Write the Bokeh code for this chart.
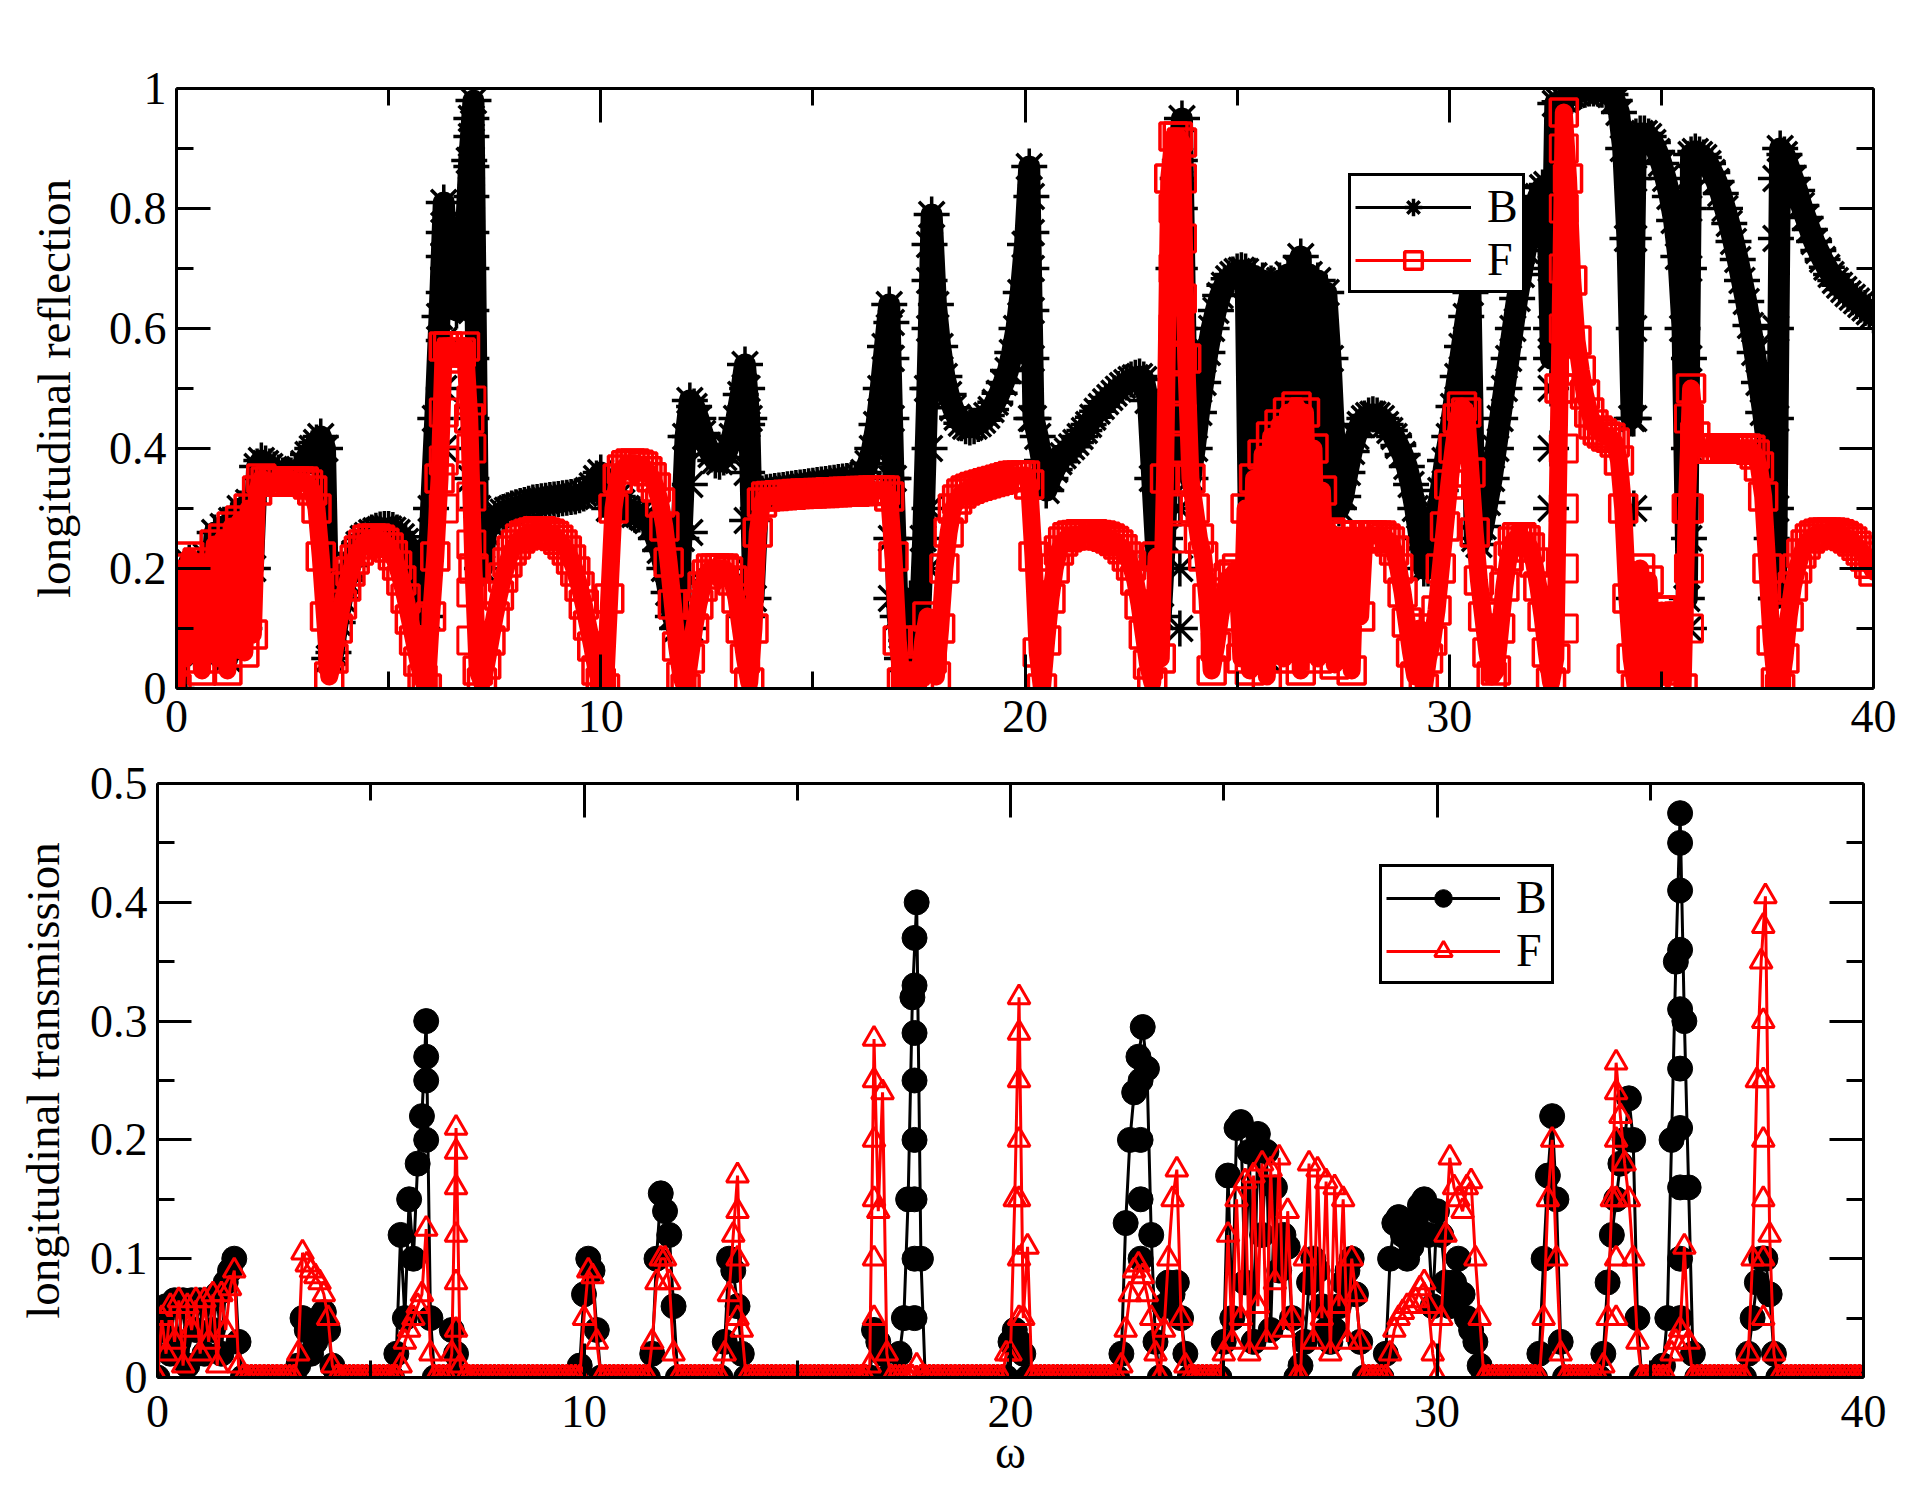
from bokeh.plotting import figure
from bokeh.models import (Range1d, LinearAxis, FixedTicker, CustomJSTickFormatter,
                          Legend, LegendItem)
from bokeh.layouts import column
from bokeh.embed import file_html
from bokeh.resources import INLINE

FONT = "Liberation Serif"

# ---------------- data (omega sampled every 0.1 from 0 to 40) ----------------
# longitudinal reflection, B
refl_B_0_10 = [
    0.00, 0.18, 0.08, 0.21, 0.12, 0.19, 0.06, 0.22, 0.15, 0.26,
    0.09, 0.27, 0.05, 0.28, 0.14, 0.30, 0.10, 0.31, 0.20, 0.37,
    0.38, 0.375, 0.37, 0.365, 0.36, 0.355, 0.355, 0.355, 0.36, 0.365,
    0.375, 0.39, 0.40, 0.41, 0.42, 0.40, 0.05, 0.06, 0.11, 0.15,
    0.18, 0.205, 0.225, 0.24, 0.25, 0.255, 0.26, 0.263, 0.265, 0.266,
    0.266, 0.264, 0.26, 0.253, 0.245, 0.23, 0.21, 0.19, 0.16, 0.12,
    0.30, 0.45, 0.62, 0.81, 0.70, 0.66, 0.63, 0.65, 0.72, 0.88,
    0.98, 0.30, 0.20, 0.26, 0.275, 0.283, 0.29, 0.294, 0.297, 0.30,
    0.302, 0.304, 0.306, 0.308, 0.31, 0.311, 0.312, 0.313, 0.314, 0.315,
    0.316, 0.317, 0.318, 0.319, 0.32, 0.322, 0.325, 0.33, 0.338, 0.35]
refl_B_10_20 = [
    0.36, 0.33, 0.30, 0.31, 0.32, 0.31, 0.30, 0.295, 0.29, 0.29,
    0.285, 0.28, 0.27, 0.25, 0.23, 0.20, 0.16, 0.12, 0.10, 0.25,
    0.42, 0.48, 0.47, 0.45, 0.425, 0.405, 0.39, 0.38, 0.378, 0.385,
    0.40, 0.42, 0.45, 0.49, 0.54, 0.45, 0.15, 0.30, 0.325, 0.327,
    0.328, 0.329, 0.33, 0.331, 0.332, 0.333, 0.334, 0.335, 0.336, 0.337,
    0.338, 0.339, 0.34, 0.341, 0.342, 0.343, 0.344, 0.345, 0.346, 0.347,
    0.348, 0.352, 0.36, 0.375, 0.40, 0.44, 0.50, 0.57, 0.64, 0.35,
    0.12, 0.05, 0.08, 0.15, 0.12, 0.07, 0.25, 0.50, 0.79, 0.64,
    0.57, 0.52, 0.49, 0.468, 0.452, 0.442, 0.437, 0.435, 0.437, 0.441,
    0.447, 0.455, 0.465, 0.477, 0.492, 0.51, 0.53, 0.56, 0.60, 0.66]
refl_B_20_30 = [
    0.74, 0.87, 0.45, 0.42, 0.38, 0.33, 0.35, 0.365, 0.378, 0.388,
    0.396, 0.403, 0.41, 0.42, 0.43, 0.44, 0.452, 0.462, 0.47, 0.478,
    0.485, 0.492, 0.499, 0.505, 0.51, 0.515, 0.518, 0.52, 0.515, 0.48,
    0.35, 0.22, 0.12, 0.25, 0.45, 0.70, 0.85, 0.95, 0.50, 0.35,
    0.40, 0.46, 0.51, 0.56, 0.60, 0.63, 0.655, 0.672, 0.683, 0.69,
    0.695, 0.697, 0.695, 0.15, 0.688, 0.30, 0.68, 0.05, 0.675, 0.40,
    0.68, 0.10, 0.69, 0.50, 0.70, 0.72, 0.20, 0.69, 0.35, 0.68,
    0.10, 0.66, 0.55, 0.40, 0.30, 0.32, 0.36, 0.395, 0.42, 0.44,
    0.45, 0.455, 0.457, 0.455, 0.45, 0.44, 0.43, 0.42, 0.405, 0.39,
    0.37, 0.34, 0.30, 0.25, 0.20, 0.20, 0.24, 0.29, 0.33, 0.38]
refl_B_30_40 = [
    0.42, 0.47, 0.52, 0.57, 0.62, 0.66, 0.25, 0.24, 0.27, 0.31,
    0.35, 0.40, 0.45, 0.50, 0.55, 0.60, 0.65, 0.69, 0.73, 0.77,
    0.80, 0.82, 0.835, 0.84, 0.55, 0.975, 0.978, 0.982, 0.986, 0.99,
    0.993, 0.996, 0.998, 1.0, 1.0, 1.0, 0.998, 0.995, 0.99, 0.98,
    0.96, 0.90, 0.75, 0.45, 0.92, 0.925, 0.925, 0.92, 0.91, 0.895,
    0.875, 0.85, 0.82, 0.78, 0.72, 0.60, 0.15, 0.89, 0.895, 0.89,
    0.885, 0.875, 0.86, 0.845, 0.825, 0.80, 0.775, 0.745, 0.715, 0.68,
    0.645, 0.605, 0.56, 0.51, 0.46, 0.40, 0.25, 0.15, 0.90, 0.89,
    0.87, 0.85, 0.83, 0.805, 0.785, 0.765, 0.745, 0.73, 0.715, 0.702,
    0.69, 0.68, 0.672, 0.665, 0.658, 0.652, 0.646, 0.64, 0.634, 0.628,
    0.622]

# longitudinal reflection, F
refl_F_0_10 = [
    0.00, 0.20, 0.05, 0.22, 0.08, 0.21, 0.03, 0.20, 0.12, 0.24,
    0.05, 0.25, 0.03, 0.27, 0.10, 0.28, 0.06, 0.30, 0.09, 0.33,
    0.35, 0.345, 0.345, 0.345, 0.345, 0.345, 0.345, 0.345, 0.345, 0.345,
    0.345, 0.34, 0.33, 0.30, 0.22, 0.12, 0.02, 0.05, 0.10, 0.14,
    0.17, 0.195, 0.215, 0.23, 0.24, 0.248, 0.25, 0.25, 0.248, 0.243,
    0.235, 0.222, 0.205, 0.18, 0.15, 0.115, 0.08, 0.045, 0.015, 0.00,
    0.12, 0.22, 0.35, 0.57, 0.57, 0.56, 0.55, 0.56, 0.57, 0.45,
    0.20, 0.03, 0.01, 0.04, 0.08, 0.12, 0.155, 0.185, 0.21, 0.23,
    0.24, 0.25, 0.255, 0.258, 0.26, 0.262, 0.262, 0.26, 0.258, 0.254,
    0.248, 0.24, 0.23, 0.215, 0.195, 0.17, 0.14, 0.105, 0.07, 0.03]
refl_F_10_20 = [
    0.01, 0.00, 0.15, 0.30, 0.35, 0.365, 0.372, 0.375, 0.375, 0.373,
    0.37, 0.362, 0.352, 0.335, 0.31, 0.27, 0.21, 0.14, 0.07, 0.02,
    0.00, 0.05, 0.10, 0.14, 0.17, 0.19, 0.20, 0.20, 0.20, 0.20,
    0.195, 0.18, 0.15, 0.10, 0.05, 0.01, 0.10, 0.26, 0.31, 0.32,
    0.321, 0.321, 0.322, 0.322, 0.323, 0.323, 0.324, 0.324, 0.325, 0.325,
    0.325, 0.326, 0.326, 0.326, 0.327, 0.327, 0.327, 0.328, 0.328, 0.328,
    0.328, 0.329, 0.329, 0.329, 0.33, 0.33, 0.33, 0.33, 0.32, 0.22,
    0.08, 0.01, 0.02, 0.00, 0.03, 0.01, 0.08, 0.12, 0.05, 0.02,
    0.10, 0.20, 0.26, 0.30, 0.315, 0.325, 0.33, 0.333, 0.336, 0.338,
    0.34, 0.342, 0.344, 0.346, 0.348, 0.35, 0.352, 0.354, 0.355, 0.355]
refl_F_20_30 = [
    0.355, 0.34, 0.22, 0.06, 0.00, 0.08, 0.15, 0.20, 0.23, 0.245,
    0.252, 0.255, 0.256, 0.257, 0.257, 0.257, 0.257, 0.256, 0.255, 0.253,
    0.25, 0.246, 0.24, 0.232, 0.22, 0.205, 0.18, 0.14, 0.09, 0.04,
    0.01, 0.22, 0.05, 0.35, 0.85, 0.92, 0.92, 0.91, 0.55, 0.35,
    0.30, 0.25, 0.22, 0.15, 0.03, 0.07, 0.12, 0.16, 0.185, 0.19,
    0.20, 0.05, 0.30, 0.03, 0.35, 0.10, 0.39, 0.02, 0.42, 0.15,
    0.44, 0.05, 0.46, 0.12, 0.47, 0.03, 0.46, 0.20, 0.40, 0.05,
    0.33, 0.10, 0.26, 0.04, 0.255, 0.08, 0.255, 0.03, 0.255, 0.12,
    0.255, 0.255, 0.255, 0.255, 0.255, 0.25, 0.245, 0.23, 0.20, 0.16,
    0.11, 0.06, 0.02, 0.10, 0.00, 0.05, 0.08, 0.13, 0.20, 0.27]
refl_F_30_40 = [
    0.34, 0.40, 0.45, 0.47, 0.46, 0.36, 0.26, 0.18, 0.12, 0.06,
    0.02, 0.03, 0.10, 0.17, 0.22, 0.245, 0.252, 0.252, 0.247, 0.235,
    0.21, 0.17, 0.12, 0.06, 0.01, 0.05, 0.50, 0.96, 0.85, 0.68,
    0.58, 0.53, 0.49, 0.46, 0.44, 0.43, 0.425, 0.42, 0.418, 0.41,
    0.38, 0.30, 0.15, 0.05, 0.00, 0.20, 0.05, 0.18, 0.00, 0.05,
    0.13, 0.02, 0.13, 0.03, 0.12, 0.00, 0.30, 0.50, 0.42, 0.40,
    0.40, 0.40, 0.40, 0.40, 0.40, 0.40, 0.40, 0.40, 0.40, 0.40,
    0.40, 0.398, 0.39, 0.37, 0.32, 0.20, 0.08, 0.01, 0.00, 0.05,
    0.12, 0.17, 0.20, 0.225, 0.24, 0.25, 0.255, 0.258, 0.26, 0.26,
    0.26, 0.259, 0.257, 0.254, 0.25, 0.245, 0.238, 0.23, 0.22, 0.208,
    0.195]

refl_B_stack_omega = [6.3] * 6 + [6.95] * 10 + [12.1] * 5 + [13.45] * 6 + \
    [16.85] * 6 + [17.75] * 7 + [20.15] * 6 + [23.65] * 9 + [25.5] * 6 + \
    [26.0] * 6 + [26.5] * 4 + [32.4] * 5 + [34.35] * 6 + [35.65] * 6 + [37.7] * 6
refl_B_stack_value = [
    0.40, 0.50, 0.58, 0.66, 0.72, 0.76,
    0.35, 0.45, 0.55, 0.63, 0.70, 0.76, 0.82, 0.87, 0.92, 0.95,
    0.10, 0.18, 0.26, 0.34, 0.42,
    0.12, 0.20, 0.28, 0.36, 0.44, 0.50,
    0.15, 0.25, 0.35, 0.45, 0.55, 0.61,
    0.20, 0.30, 0.40, 0.50, 0.60, 0.68, 0.74,
    0.45, 0.55, 0.63, 0.70, 0.76, 0.82,
    0.10, 0.20, 0.30, 0.40, 0.50, 0.60, 0.70, 0.80, 0.88,
    0.15, 0.25, 0.35, 0.45, 0.55, 0.62,
    0.10, 0.20, 0.30, 0.40, 0.50, 0.60,
    0.15, 0.30, 0.45, 0.60,
    0.30, 0.40, 0.50, 0.60, 0.70,
    0.15, 0.30, 0.45, 0.60, 0.75, 0.85,
    0.10, 0.25, 0.40, 0.55, 0.70, 0.80,
    0.15, 0.30, 0.45, 0.60, 0.75, 0.85]
refl_F_stack_omega = [6.3] * 3 + [6.95] * 6 + [23.5] * 6 + [23.7] * 7 + \
    [32.7] * 9 + [35.65] * 4
refl_F_stack_value = [
    0.30, 0.38, 0.46,
    0.08, 0.16, 0.24, 0.32, 0.40, 0.48,
    0.30, 0.40, 0.50, 0.60, 0.70, 0.80,
    0.25, 0.35, 0.45, 0.55, 0.65, 0.75, 0.85,
    0.10, 0.20, 0.30, 0.40, 0.50, 0.60, 0.70, 0.80, 0.90,
    0.10, 0.20, 0.30, 0.45]

# longitudinal transmission, B
trans_B_0_10 = [
    0.00, 0.04, 0.06, 0.02, 0.065, 0.03, 0.065, 0.01, 0.065, 0.04,
    0.065, 0.02, 0.065, 0.04, 0.07, 0.02, 0.08, 0.09, 0.10, 0.03,
    0, 0, 0, 0, 0, 0, 0, 0, 0, 0,
    0, 0, 0, 0.01, 0.05, 0.04, 0.02, 0.03, 0.05, 0.055,
    0.04, 0.01, 0, 0, 0, 0, 0, 0, 0, 0,
    0, 0, 0, 0, 0, 0, 0.02, 0.12, 0.05, 0.15,
    0.10, 0.18, 0.22, 0.30, 0.05, 0, 0, 0, 0, 0.04,
    0.02, 0, 0, 0, 0, 0, 0, 0, 0, 0,
    0, 0, 0, 0, 0, 0, 0, 0, 0, 0,
    0, 0, 0, 0, 0, 0, 0, 0, 0, 0.01]
trans_B_10_20 = [
    0.07, 0.10, 0.09, 0.04, 0, 0, 0, 0, 0, 0,
    0, 0, 0, 0, 0, 0, 0.02, 0.10, 0.155, 0.14,
    0.12, 0.06, 0, 0, 0, 0, 0, 0, 0, 0,
    0, 0, 0, 0.03, 0.10, 0.09, 0.06, 0.02, 0, 0,
    0, 0, 0, 0, 0, 0, 0, 0, 0, 0,
    0, 0, 0, 0, 0, 0, 0, 0, 0, 0,
    0, 0, 0, 0, 0, 0, 0, 0, 0.04, 0.03,
    0.02, 0, 0, 0, 0.02, 0.05, 0.15, 0.32, 0.40, 0.10,
    0, 0, 0, 0, 0, 0, 0, 0, 0, 0,
    0, 0, 0, 0, 0, 0, 0, 0, 0, 0]
trans_B_20_30 = [
    0.03, 0.04, 0.03, 0.02, 0, 0, 0, 0, 0, 0,
    0, 0, 0, 0, 0, 0, 0, 0, 0, 0,
    0, 0, 0, 0, 0, 0, 0.02, 0.13, 0.20, 0.24,
    0.27, 0.295, 0.26, 0.12, 0.03, 0, 0.06, 0.08, 0.07, 0.08,
    0.05, 0.02, 0, 0, 0, 0, 0, 0, 0, 0,
    0.03, 0.17, 0.05, 0.21, 0.215, 0.08, 0.19, 0.03, 0.205, 0.12,
    0.19, 0.04, 0.16, 0.09, 0.12, 0.11, 0.05, 0, 0.01, 0.03,
    0.08, 0.10, 0.09, 0.06, 0.04, 0.03, 0.04, 0.06, 0.08, 0.09,
    0.10, 0.07, 0.03, 0, 0, 0, 0, 0, 0.02, 0.10,
    0.13, 0.135, 0.12, 0.10, 0.11, 0.13, 0.145, 0.15, 0.12, 0.06]
trans_B_30_40 = [
    0.14, 0.12, 0.08, 0.06, 0.08, 0.10, 0.07, 0.05, 0.04, 0.03,
    0.01, 0, 0, 0, 0, 0, 0, 0, 0, 0,
    0, 0, 0, 0, 0.02, 0.10, 0.17, 0.22, 0.15, 0.03,
    0, 0, 0, 0, 0, 0, 0, 0, 0, 0.02,
    0.08, 0.12, 0.15, 0.18, 0.20, 0.235, 0.20, 0.05, 0, 0,
    0, 0, 0, 0.01, 0.05, 0.20, 0.35, 0.475, 0.30, 0.16,
    0.02, 0, 0, 0, 0, 0, 0, 0, 0, 0,
    0, 0, 0, 0.02, 0.05, 0.08, 0.10, 0.10, 0.07, 0.02,
    0, 0, 0, 0, 0, 0, 0, 0, 0, 0,
    0, 0, 0, 0, 0, 0, 0, 0, 0, 0,
    0]

# longitudinal transmission, F
trans_F_0_10 = [
    0.00, 0.05, 0.02, 0.06, 0.03, 0.065, 0.01, 0.06, 0.04, 0.065,
    0.02, 0.065, 0.03, 0.07, 0.01, 0.07, 0.04, 0.075, 0.09, 0.01,
    0, 0, 0, 0, 0, 0, 0, 0, 0, 0,
    0, 0, 0, 0.02, 0.105, 0.095, 0.09, 0.085, 0.08, 0.07,
    0.05, 0.01, 0, 0, 0, 0, 0, 0, 0, 0,
    0, 0, 0, 0, 0, 0, 0, 0.01, 0.03, 0.04,
    0.05, 0.06, 0.07, 0.125, 0.02, 0, 0, 0, 0, 0.02,
    0.21, 0.01, 0, 0, 0, 0, 0, 0, 0, 0,
    0, 0, 0, 0, 0, 0, 0, 0, 0, 0,
    0, 0, 0, 0, 0, 0, 0, 0, 0, 0]
trans_F_10_20 = [
    0.05, 0.09, 0.085, 0.03, 0, 0, 0, 0, 0, 0,
    0, 0, 0, 0, 0, 0, 0.03, 0.08, 0.10, 0.10,
    0.08, 0.02, 0, 0, 0, 0, 0, 0, 0, 0,
    0, 0, 0, 0.02, 0.07, 0.12, 0.17, 0.04, 0, 0,
    0, 0, 0, 0, 0, 0, 0, 0, 0, 0,
    0, 0, 0, 0, 0, 0, 0, 0, 0, 0,
    0, 0, 0, 0, 0, 0, 0, 0.01, 0.285, 0.14,
    0.24, 0.02, 0, 0, 0, 0, 0, 0, 0.01, 0,
    0, 0, 0, 0, 0, 0, 0, 0, 0, 0,
    0, 0, 0, 0, 0, 0, 0, 0, 0, 0.02]
trans_F_20_30 = [
    0.02, 0.15, 0.32, 0.05, 0.11, 0, 0, 0, 0, 0,
    0, 0, 0, 0, 0, 0, 0, 0, 0, 0,
    0, 0, 0, 0, 0, 0, 0.01, 0.04, 0.07, 0.09,
    0.095, 0.085, 0.07, 0.05, 0.02, 0, 0.04, 0.10, 0.15, 0.175,
    0.05, 0.01, 0, 0, 0, 0, 0, 0, 0, 0,
    0.02, 0.12, 0.03, 0.15, 0.05, 0.165, 0.02, 0.17, 0.06, 0.18,
    0.03, 0.175, 0.08, 0.185, 0.04, 0.14, 0.05, 0, 0, 0.10,
    0.18, 0.03, 0.175, 0.05, 0.165, 0.02, 0.16, 0.06, 0.15, 0.03,
    0.10, 0.07, 0.03, 0, 0, 0, 0, 0, 0, 0.02,
    0.04, 0.05, 0.055, 0.06, 0.06, 0.065, 0.075, 0.08, 0.06, 0.02]
trans_F_30_40 = [
    0.0, 0.05, 0.12, 0.185, 0.16, 0.15, 0.14, 0.16, 0.165, 0.10,
    0.05, 0, 0, 0, 0, 0, 0, 0, 0, 0,
    0, 0, 0, 0, 0, 0.05, 0.15, 0.20, 0.10, 0.02,
    0, 0, 0, 0, 0, 0, 0, 0, 0, 0.01,
    0.05, 0.15, 0.265, 0.22, 0.18, 0.15, 0.10, 0.03, 0, 0,
    0, 0, 0, 0, 0, 0.02, 0.03, 0.04, 0.11, 0.03,
    0, 0, 0, 0, 0, 0, 0, 0, 0, 0,
    0, 0, 0, 0.02, 0.10, 0.25, 0.35, 0.405, 0.12, 0.02,
    0, 0, 0, 0, 0, 0, 0, 0, 0, 0,
    0, 0, 0, 0, 0, 0, 0, 0, 0, 0,
    0]

trans_B_stack_omega = [6.3] * 3 + [17.75] * 8 + [23.05] * 4 + [35.7] * 9
trans_B_stack_value = [
    0.20, 0.25, 0.27,
    0.05, 0.10, 0.15, 0.20, 0.25, 0.29, 0.33, 0.37,
    0.10, 0.15, 0.20, 0.25,
    0.05, 0.10, 0.16, 0.21, 0.26, 0.31, 0.36, 0.41, 0.45]
trans_F_stack_omega = [7.0] * 5 + [13.6] * 3 + [16.8] * 5 + [20.2] * 6 + \
    [34.2] * 5 + [37.65] * 7
trans_F_stack_value = [
    0.04, 0.08, 0.12, 0.16, 0.19,
    0.05, 0.10, 0.14,
    0.05, 0.10, 0.15, 0.20, 0.25,
    0.05, 0.10, 0.15, 0.20, 0.25, 0.29,
    0.05, 0.10, 0.15, 0.20, 0.24,
    0.05, 0.10, 0.15, 0.20, 0.25, 0.30, 0.38]

x_ticks = [0, 10, 20, 30, 40]
x_minor = [5, 15, 25, 35]
refl_ticks = [0, 0.2, 0.4, 0.6, 0.8, 1]
refl_minor = [0.1, 0.3, 0.5, 0.7, 0.9]
trans_ticks = [0, 0.1, 0.2, 0.3, 0.4, 0.5]
trans_minor = [0.05, 0.15, 0.25, 0.35, 0.45]

omega = [round(0.1 * i, 1) for i in range(401)]
refl_B = refl_B_0_10 + refl_B_10_20 + refl_B_20_30 + refl_B_30_40
refl_F = refl_F_0_10 + refl_F_10_20 + refl_F_20_30 + refl_F_30_40
trans_B = trans_B_0_10 + trans_B_10_20 + trans_B_20_30 + trans_B_30_40
trans_F = trans_F_0_10 + trans_F_10_20 + trans_F_20_30 + trans_F_30_40


def setup_axes(p, yt, ym, ylabel, ylabel_standoff, xstandoff, xlabel=None,
               xlabel_standoff=0):
    xb = p.below[0]
    yl = p.left[0]
    xt = FixedTicker(ticks=x_ticks, minor_ticks=x_minor)
    ytk = FixedTicker(ticks=yt, minor_ticks=ym)
    fmt = CustomJSTickFormatter(code="return String(tick);")
    blank = CustomJSTickFormatter(code="return '';")
    xb.ticker = xt
    yl.ticker = ytk
    xb.formatter = fmt
    yl.formatter = fmt
    xa = LinearAxis(ticker=xt, formatter=blank, major_label_standoff=0)
    ya = LinearAxis(ticker=ytk, formatter=blank, major_label_standoff=0)
    p.add_layout(xa, "above")
    p.add_layout(ya, "right")
    for ax in (xb, yl, xa, ya):
        ax.axis_line_width = 3
        ax.axis_line_color = "black"
        ax.major_tick_in = 34
        ax.major_tick_out = 0
        ax.minor_tick_in = 17
        ax.minor_tick_out = 0
        ax.major_tick_line_width = 3
        ax.minor_tick_line_width = 3
        ax.major_tick_line_color = "black"
        ax.minor_tick_line_color = "black"
        ax.major_label_text_font = FONT
        ax.major_label_text_font_size = "46px"
        ax.major_label_text_color = "black"
    xa.major_label_text_font_size = "0px"
    ya.major_label_text_font_size = "0px"
    yl.major_label_standoff = 10
    xb.major_label_standoff = xstandoff
    yl.axis_label = ylabel
    yl.axis_label_standoff = ylabel_standoff
    yl.axis_label_text_font = FONT
    yl.axis_label_text_font_size = "47px"
    yl.axis_label_text_font_style = "normal"
    yl.axis_label_text_color = "black"
    if xlabel:
        xb.axis_label = xlabel
        xb.axis_label_standoff = xlabel_standoff
        xb.axis_label_text_font = FONT
        xb.axis_label_text_font_size = "47px"
        xb.axis_label_text_font_style = "normal"
        xb.axis_label_text_color = "black"
    p.xgrid.grid_line_color = None
    p.ygrid.grid_line_color = None
    p.outline_line_color = None
    p.background_fill_color = "white"
    p.border_fill_color = "white"
    p.frame_align = False


def make_legend(items, loc, gw):
    return Legend(items=items, location=loc, orientation="vertical",
                  border_line_color="black", border_line_width=3,
                  border_line_alpha=1.0,
                  background_fill_color="white", background_fill_alpha=1.0,
                  label_text_font=FONT, label_text_font_size="46px",
                  label_text_color="black",
                  glyph_width=gw, glyph_height=44, label_standoff=16,
                  padding=4, spacing=0, margin=0)


# ---------------- top panel: reflection ----------------
p1 = figure(width=1908, height=750, x_range=Range1d(0, 40), y_range=Range1d(0, 1),
            output_backend="svg", toolbar_location=None,
            min_border_left=176, min_border_right=35, min_border_top=88,
            min_border_bottom=62)
# the densely sampled curves appear as solid ribbons of overlapping symbols
p1.line(omega, refl_B, line_color="black", line_width=22, line_join="round",
        line_cap="round")
lb1 = p1.line(omega, refl_B, line_color="black", line_width=3)
sb1 = p1.scatter(omega, refl_B, marker="asterisk", size=36, line_color="black",
                 line_width=3.5)
p1.scatter(refl_B_stack_omega, refl_B_stack_value, marker="asterisk", size=36,
           line_color="black", line_width=3.5)
p1.line(omega, refl_F, line_color="red", line_width=18, line_join="round",
        line_cap="round")
lf1 = p1.line(omega, refl_F, line_color="red", line_width=3)
sf1 = p1.scatter(omega, refl_F, marker="square", size=27, line_color="red",
                 fill_color=None, line_width=3.5)
p1.scatter(refl_F_stack_omega, refl_F_stack_value, marker="square", size=27,
           line_color="red", fill_color=None, line_width=3)
setup_axes(p1, refl_ticks, refl_minor, "longitudinal reflection", 26, 12)
p1.add_layout(make_legend([LegendItem(label="B", renderers=[lb1, sb1]),
                           LegendItem(label="F", renderers=[lf1, sf1])],
                          (1172, 395), 116))

# ---------------- bottom panel: transmission ----------------
p2 = figure(width=1908, height=730, x_range=Range1d(0, 40), y_range=Range1d(0, 0.5),
            output_backend="svg", toolbar_location=None,
            min_border_left=157, min_border_right=45, min_border_top=33,
            min_border_bottom=100)
lb2 = p2.line(omega, trans_B, line_color="black", line_width=3)
sb2 = p2.scatter(omega, trans_B, marker="circle", size=25, line_color="black",
                 fill_color="black", line_width=1)
p2.scatter(trans_B_stack_omega, trans_B_stack_value, marker="circle", size=25,
           line_color="black", fill_color="black", line_width=1)
lf2 = p2.line(omega, trans_F, line_color="red", line_width=3)
sf2 = p2.scatter(omega, trans_F, marker="triangle", size=22, line_color="red",
                 fill_color=None, line_width=3)
p2.scatter(trans_F_stack_omega, trans_F_stack_value, marker="triangle", size=22,
           line_color="red", fill_color=None, line_width=3)
setup_axes(p2, trans_ticks, trans_minor, "longitudinal transmission", 18, 18,
           xlabel="\u03c9", xlabel_standoff=-4)
p2.add_layout(make_legend([LegendItem(label="B", renderers=[lb2, sb2]),
                           LegendItem(label="F", renderers=[lf2, sf2])],
                          (1222, 393), 114))

layout = column(p1, p2, spacing=0)
open("out.html", "w").write(file_html(layout, INLINE))
